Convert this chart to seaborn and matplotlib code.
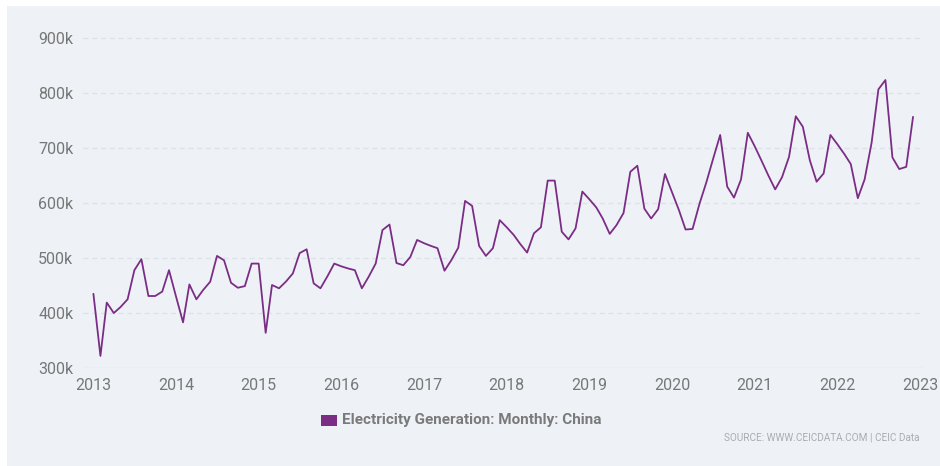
import numpy as np
import pandas as pd
import matplotlib.pyplot as plt
import matplotlib.ticker as mticker
import matplotlib.dates as mdates
from matplotlib.patches import Rectangle
import seaborn as sns

# monthly electricity generation, China (GWh), Jan 2013 - Dec 2022
gen_2013 = [435, 322, 419, 400, 411, 425, 478, 498, 431, 431, 439, 478]
gen_2014 = [430, 383, 452, 425, 442, 457, 504, 496, 455, 446, 449, 490]
gen_2015 = [490, 364, 451, 445, 457, 472, 509, 516, 454, 445, 467, 490]
gen_2016 = [485, 481, 478, 445, 466, 490, 551, 561, 491, 487, 502, 533]
gen_2017 = [527, 522, 518, 477, 496, 519, 604, 595, 522, 504, 518, 569]
gen_2018 = [556, 542, 526, 510, 545, 556, 641, 641, 548, 534, 554, 621]
gen_2019 = [607, 592, 572, 544, 560, 582, 657, 668, 590, 572, 589, 653]
gen_2020 = [620, 587, 552, 553, 598, 638, 681, 724, 630, 610, 643, 728]
gen_2021 = [703, 676, 651, 625, 647, 684, 758, 739, 678, 639, 654, 724]
gen_2022 = [707, 689, 671, 609, 643, 710, 807, 824, 683, 662, 666, 757]

values = np.array(gen_2013 + gen_2014 + gen_2015 + gen_2016 + gen_2017 +
                  gen_2018 + gen_2019 + gen_2020 + gen_2021 + gen_2022) * 1000
months = pd.date_range("2013-01-01", periods=len(values), freq="MS")
df = pd.DataFrame({"month": months, "gen": values})

y_ticks = [300000, 400000, 500000, 600000, 700000, 800000, 900000]
series_name = "Electricity Generation: Monthly: China"

bg = "#eef2f6"
txt = "#777777"
purple = "#7b2d86"

sns.set_theme(style="white")
plt.rcParams["font.family"] = ["Roboto", "DejaVu Sans"]

fig = plt.figure(figsize=(9.4, 4.66), dpi=100, facecolor="white")
fig.patches.append(Rectangle((7/940, 0), 1, 1 - 6/466, transform=fig.transFigure,
                             facecolor=bg, edgecolor="none", zorder=-10))
ax = fig.add_axes([83/940, 98/466, 840/940, 338/466])
ax.set_facecolor(bg)

sns.lineplot(data=df, x="month", y="gen", color=purple, linewidth=1.3, ax=ax)

ax.set_xlim(pd.Timestamp("2012-11-16"), pd.Timestamp("2023-01-14"))
ax.set_ylim(300000, 915000)
ax.set_yticks(y_ticks)
ax.yaxis.set_major_formatter(mticker.FuncFormatter(lambda v, p: f"{int(v/1000)}k"))
ax.xaxis.set_major_locator(mdates.YearLocator())
ax.xaxis.set_major_formatter(mdates.DateFormatter("%Y"))

for y in y_ticks[1:]:
    ax.axhline(y, color="#dce2ea", linewidth=0.9, linestyle=(0, (4, 3)), zorder=0)
ax.axhline(300000, color="#dadfe6", linewidth=1, zorder=0)

for s in ax.spines.values():
    s.set_visible(False)
ax.tick_params(axis="both", length=0, labelsize=11.5, colors=txt)
ax.tick_params(axis="y", pad=7)
ax.tick_params(axis="x", pad=7)
ax.set_xlabel("")
ax.set_ylabel("")

fig.patches.append(Rectangle((321/940, (466-426)/466), 16/940, 11/466,
                             transform=fig.transFigure, facecolor=purple,
                             edgecolor="none"))
fig.text(342/940, (466-420)/466, series_name, fontsize=11, fontweight="bold",
         color="#7a7a7a", va="center", ha="left")
fig.text(920/940, (466-437)/466, "SOURCE: WWW.CEICDATA.COM | CEIC Data",
         fontsize=7.2, color="#a9adb3", va="center", ha="right")

fig.savefig("out.png", dpi=100, facecolor="white")
